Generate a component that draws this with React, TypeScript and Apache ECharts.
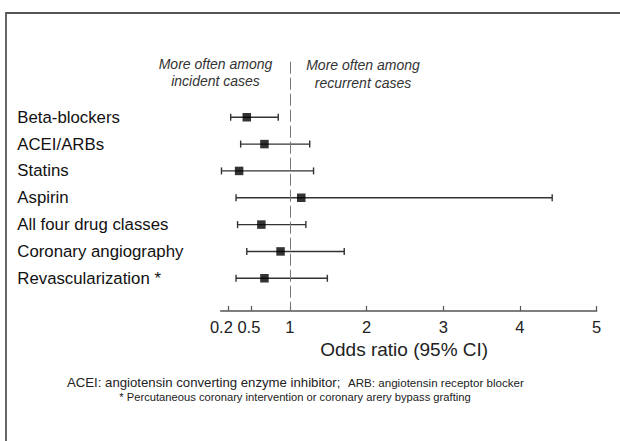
import React, { useEffect, useRef } from "react";
import * as echarts from "echarts";

const categories = [
  "Beta-blockers",
  "ACEI/ARBs",
  "Statins",
  "Aspirin",
  "All four drug classes",
  "Coronary angiography",
  "Revascularization *",
];
const oddsRatio = [0.44, 0.67, 0.34, 1.15, 0.63, 0.88, 0.67];
const ciLow = [0.23, 0.36, 0.11, 0.3, 0.32, 0.44, 0.3];
const ciHigh = [0.85, 1.26, 1.31, 4.42, 1.21, 1.71, 1.49];
const tickValues = [0.2, 0.5, 1, 2, 3, 4, 5];
const tickLabels = ["0.2", "0.5", "1", "2", "3", "4", "5"];
const referenceValue = 1;

const FONT = "'Liberation Sans', Arial, Helvetica, sans-serif";

export default function App() {
  const ref = useRef<HTMLDivElement>(null);

  useEffect(() => {
    if (!ref.current) return;
    const chart = echarts.init(ref.current, undefined, { renderer: "svg" });

    const rowIdx = categories.map((_, i) => i);
    const whiskerData = categories.map((_, i) => [i, ciLow[i], ciHigh[i]]);
    const pointData = categories.map((_, i) => [oddsRatio[i], i]);

    const option: any = {
      animation: false,
      backgroundColor: "#ffffff",
      grid: { left: 220.7, right: 23.3, top: 61.7, bottom: 130 },
      xAxis: {
        type: "value",
        min: 0.1,
        max: 5,
        axisLine: { show: true, onZero: false, lineStyle: { color: "#555", width: 1.5 } },
        axisTick: {
          show: true,
          inside: true,
          length: 5,
          customValues: tickValues,
          lineStyle: { color: "#555", width: 1.2 },
        },
        axisLabel: {
          customValues: tickValues,
          formatter: (v: number) => {
            const k = tickValues.indexOf(v);
            if (k < 0) return "";
            if (k === 0) return "{a|" + tickLabels[k] + "}";
            if (k === 1) return "{b|" + tickLabels[k] + "}";
            return tickLabels[k];
          },
          rich: {
            a: { fontSize: 16.5, color: "#222", fontFamily: FONT, padding: [0, 14, 0, 0] },
            b: { fontSize: 16.5, color: "#222", fontFamily: FONT, padding: [0, 5, 0, 0] },
          },
          fontSize: 16.5,
          color: "#222",
          fontFamily: FONT,
          margin: 7,
        },
        splitLine: { show: false },
        name: "Odds ratio (95% CI)",
        nameLocation: "middle",
        nameGap: 27,
        nameTextStyle: { fontSize: 19, color: "#222", fontFamily: FONT, padding: [0, 9, 0, 0] },
      },
      yAxis: {
        type: "value",
        inverse: true,
        min: -2.07,
        max: 7.22,
        axisLine: { show: false },
        axisTick: { show: false },
        splitLine: { show: false },
        axisLabel: {
          customValues: rowIdx,
          formatter: (v: number) => categories[v] ?? "",
          align: "left",
          margin: 203.4,
          fontSize: 16.8,
          color: "#111",
          fontFamily: FONT,
        },
      },
      series: [
        {
          type: "custom",
          data: whiskerData,
          encode: { x: [1, 2], y: 0 },
          renderItem: (params: any, api: any) => {
            const i = api.value(0);
            const lo = api.coord([api.value(1), i]);
            const hi = api.coord([api.value(2), i]);
            const h = 3.5;
            const style = { stroke: "#333", lineWidth: 1.4 };
            return {
              type: "group",
              children: [
                { type: "line", shape: { x1: lo[0], y1: lo[1], x2: hi[0], y2: hi[1] }, style },
                { type: "line", shape: { x1: lo[0], y1: lo[1] - h, x2: lo[0], y2: lo[1] + h }, style },
                { type: "line", shape: { x1: hi[0], y1: hi[1] - h, x2: hi[0], y2: hi[1] + h }, style },
              ],
            };
          },
          markLine: {
            silent: true,
            symbol: "none",
            label: { show: false },
            lineStyle: { color: "#777", width: 1, type: [12, 4] },
            data: [{ xAxis: referenceValue }],
          },
          z: 2,
        },
        {
          type: "scatter",
          data: pointData,
          symbol: "rect",
          symbolSize: 8.5,
          itemStyle: { color: "#000" },
          z: 3,
        },
      ],
      graphic: [
        {
          type: "rect",
          shape: { x: 6, y: 13, width: 700, height: 500 },
          style: { fill: "none", stroke: "#555", lineWidth: 1.8 },
          silent: true,
        },
        {
          type: "text",
          x: 215.5,
          y: 63.5,
          style: {
            text: "More often among",
            textAlign: "center",
            textVerticalAlign: "middle",
            font: `italic 14px ${FONT}`,
            fill: "#333",
          },
        },
        {
          type: "text",
          x: 215.5,
          y: 81,
          style: {
            text: "incident cases",
            textAlign: "center",
            textVerticalAlign: "middle",
            font: `italic 14px ${FONT}`,
            fill: "#333",
          },
        },
        {
          type: "text",
          x: 363,
          y: 64.5,
          style: {
            text: "More often among",
            textAlign: "center",
            textVerticalAlign: "middle",
            font: `italic 14px ${FONT}`,
            fill: "#333",
          },
        },
        {
          type: "text",
          x: 363,
          y: 82.5,
          style: {
            text: "recurrent cases",
            textAlign: "center",
            textVerticalAlign: "middle",
            font: `italic 14px ${FONT}`,
            fill: "#333",
          },
        },
        {
          type: "text",
          x: 67,
          y: 382,
          style: {
            text: "ACEI: angiotensin converting enzyme inhibitor;",
            textAlign: "left",
            textVerticalAlign: "middle",
            font: `13.2px ${FONT}`,
            fill: "#222",
          },
        },
        {
          type: "text",
          x: 348,
          y: 382,
          style: {
            text: "ARB: angiotensin receptor blocker",
            textAlign: "left",
            textVerticalAlign: "middle",
            font: `11.6px ${FONT}`,
            fill: "#222",
          },
        },
        {
          type: "text",
          x: 295,
          y: 397,
          style: {
            text: "* Percutaneous coronary intervention or coronary arery bypass grafting",
            textAlign: "center",
            textVerticalAlign: "middle",
            font: `11.2px ${FONT}`,
            fill: "#222",
          },
        },
      ],
    };

    chart.setOption(option);
    return () => chart.dispose();
  }, []);

  return (
    <div
      ref={ref}
      style={{ position: "fixed", left: 0, top: 0, width: 620, height: 441 }}
    />
  );
}
